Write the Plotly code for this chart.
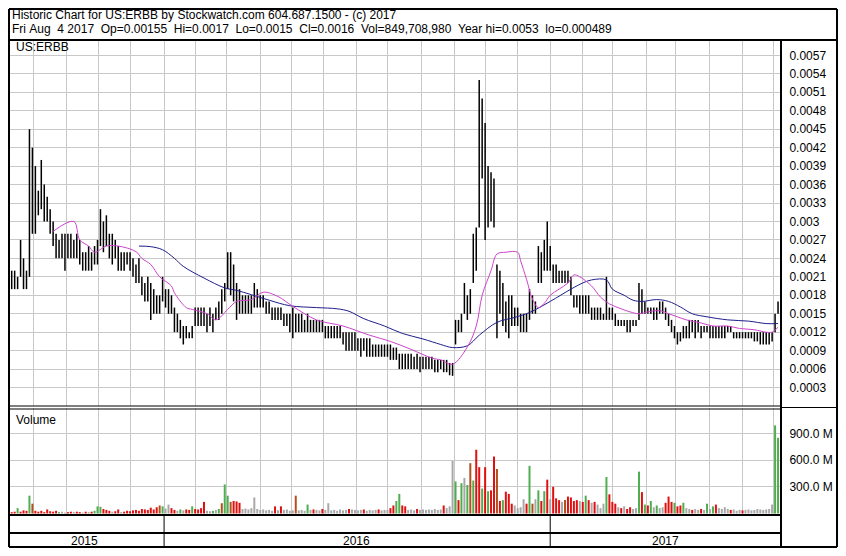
import pandas as pd
import plotly.graph_objects as go

# ---------------- data ----------------
# every 2nd trading day, Aug 2015 .. Aug 4 2017
all_days = pd.bdate_range("2015-08-05", "2017-08-04")
bar_dates = list(all_days[2::2])

PRICE_UNIT = 1e-4  # values below are in units of 0.0001
bar_high = [
    25, 22, 22, 21, 27, 24, 22, 45, 42, 39,
    35, 40, 36, 34, 32, 30, 28, 27, 28, 28,
    28, 28, 27, 28, 27, 25, 25, 26, 25, 26,
    27, 32, 30, 31, 28, 28, 27, 26, 25, 25,
    25, 25, 24, 23, 24, 21, 20, 21, 20, 19,
    18, 18, 21, 19, 19, 18, 16, 15, 14, 13,
    13, 12, 13, 16, 16, 16, 16, 15, 16, 15,
    16, 17, 19, 20, 25, 25, 23, 20, 19, 18,
    18, 18, 18, 20, 19, 18, 18, 17, 17, 16,
    16, 16, 16, 15, 15, 15, 16, 15, 15, 15,
    14, 15, 14, 14, 14, 14, 14, 13, 13, 13,
    13, 13, 13, 12, 12, 12, 12, 12, 11, 11,
    11, 11, 11, 10, 10, 10, 10, 10, 10, 10,
    9.5, 9.5, 8.5, 8.5, 8.5, 8.5, 8.5, 8, 8.5, 8,
    8, 8, 8, 8, 7.5, 7.5, 7.5, 7.5, 7.5, 7,
    7, 14, 14, 15, 20, 18, 19, 28, 29, 53,
    50, 46, 39, 38, 37, 23, 22, 20, 17, 18,
    18, 16, 16, 15, 15, 15, 19, 18, 17, 26,
    25, 27, 30, 26, 23, 23, 22, 22, 22, 22,
    21, 18, 18, 18, 18, 18, 18, 16, 16, 16,
    16, 15, 21, 16, 16, 15, 14, 14, 14, 14,
    14, 14, 14, 20, 19, 17, 16, 16, 16, 16,
    17, 17, 16, 15, 14, 13, 12, 12, 13, 13,
    14, 14, 14, 14, 13, 13, 13, 13, 13, 13,
    13, 13, 13, 13, 13, 12, 12, 12, 12, 12,
    12, 12, 12, 12, 12, 12, 12, 12, 12, 15,
    17,
]
bar_low = [
    20, 19, 19, 19, 21, 19, 19, 21, 28, 28,
    31, 32, 30, 30, 28, 26, 24, 24, 24, 22,
    24, 24, 24, 24, 23, 22, 22, 22, 22, 23,
    23, 26, 25, 26, 24, 23, 24, 22, 22, 22,
    23, 22, 21, 20, 20, 18, 17, 17, 14, 15,
    15, 15, 17, 16, 15, 15, 12, 12, 11, 10,
    11, 11, 11, 13, 13, 13, 13, 12, 13, 12,
    14, 14, 15, 17, 19, 18, 17, 14, 15, 15,
    15, 15, 15, 16, 16, 16, 16, 15, 15, 14,
    14, 14, 14, 13, 13, 12, 11, 12, 12, 12,
    12, 12, 12, 12, 12, 12, 12, 11, 11, 11,
    11, 11, 11, 10, 9, 9, 9, 9, 9, 8,
    9, 8, 8, 8, 8, 8, 8, 8, 8, 7.5,
    7.5, 7.5, 6, 6, 6, 6, 6, 6, 6, 5.5,
    6, 6, 6, 6, 5.5, 5.5, 6, 5.5, 5.5, 5,
    4.9, 10, 12, 12, 15, 14, 15, 20, 22, 29,
    37, 27, 29, 30, 29, 11, 15, 13, 12, 11,
    13, 13, 13, 12, 12, 12, 14, 15, 15, 20,
    20, 22, 22, 22, 20, 20, 20, 20, 20, 20,
    18, 16, 16, 15, 15, 15, 15, 14, 14, 14,
    14, 14, 14, 14, 14, 13, 13, 13, 13, 12,
    12, 13, 13, 14, 15, 15, 15, 15, 14, 14,
    15, 15, 14, 13, 12, 11, 10, 10.5, 11, 11,
    11, 12, 11, 12, 11, 12, 12, 11, 11, 11,
    11, 11, 11, 12, 12, 11, 11, 11, 11, 11,
    11, 11, 10.5, 10.5, 10, 10, 10, 10, 10.5, 12,
    15,
]

# volume in millions, and bar colour class (r=down, g=up, y=unchanged, b=mixed)
volume_m = [
    40, 15, 20, 60, 20, 35, 30, 200, 110, 30,
    20, 30, 15, 45, 25, 20, 30, 15, 20, 10,
    15, 20, 15, 20, 15, 10, 20, 15, 20, 30,
    80, 75, 50, 40, 30, 20, 25, 45, 15, 20,
    30, 25, 35, 40, 30, 50, 45, 40, 65, 45,
    70, 90, 80, 55, 100, 60, 40, 30, 45, 35,
    45, 40, 80, 50, 45, 60, 130, 30, 25, 30,
    40, 50, 115, 326, 200, 130, 140, 135, 120, 50,
    55, 45, 60, 180, 50, 40, 45, 35, 40, 30,
    80, 35, 80, 40, 45, 30, 35, 200, 35, 40,
    30, 100, 40, 45, 40, 35, 50, 40, 115, 35,
    40, 30, 45, 35, 40, 50, 45, 40, 35, 40,
    45, 30, 40, 35, 40, 45, 35, 40, 40, 60,
    90, 140, 220, 90, 80, 40, 45, 35, 50, 40,
    45, 40, 45, 40, 50, 40, 45, 90, 60, 80,
    590, 360, 150, 340, 400, 320, 565, 370, 716, 520,
    280, 520, 250, 260, 640, 500, 140, 150, 245, 220,
    110, 90, 60, 70, 160, 110, 535, 110, 160, 260,
    140, 250, 380, 160, 300, 170, 150, 130, 150, 190,
    180, 140, 150, 140, 130, 200, 150, 120, 130, 100,
    60, 110, 410, 215, 130, 110, 70, 60, 80, 50,
    70, 50, 60, 470, 240, 100, 90, 140, 70, 90,
    60, 70, 120, 190, 130, 120, 80, 90, 120, 60,
    50, 40, 50, 40, 50, 40, 110, 50, 80, 100,
    60, 50, 70, 50, 40, 45, 30, 40, 35, 40,
    45, 35, 40, 50, 45, 40, 45, 50, 100, 990,
    850,
]
volume_dir = (
    "rrrgrrrgbr" "rrrrrrrgyy" "rryrryryrg" "ggrrryrryr"
    "rrrrrrrrrr" "rbgyyrrygy" "rrgrrrryyg" "ygbggbrrry"
    "yyyyyyyyyy" "ryryyyybyy" "ygyryyryyy" "yyyyyryyyy"
    "ryyyyryyyr" "rggrryyyry" "yyyyyyyryy" "ygrgygbgrr"
    "grgrrbrgrr" "ryyyyrgbyg" "rgryrrrybr" "rrryrgryry"
    "yygrrryryr" "ryygrgrgyg" "yyrrrgrrgy" "yryyrygygr"
    "yyyyryyyry" "yyyyyyyyyg" "g"
)

ma_short_bar = [15, 22, 24, 27, 29, 33, 37, 43, 45, 48, 51, 55, 56, 60, 62, 67, 70, 74, 77,
                82, 86, 91, 96, 104, 113, 122, 129, 136, 143, 146, 150, 155, 158, 160,
                163, 165, 168, 172, 173, 175, 177, 179, 181, 183, 186, 189, 191, 193,
                197, 200, 203, 207, 210, 213, 216, 220, 223, 226, 229, 234, 238, 243,
                247, 252, 256, 258, 260]
ma_short_val = [28.4, 30, 27, 26, 25, 26, 26, 25.1, 24, 23, 21, 19.5, 18.4, 16, 15.7, 15,
                14, 15.7, 17, 17.3, 18.5, 17.8, 16.2, 14, 13, 11.5, 10.5, 9.2, 7.8, 7.5,
                6.8, 9.6, 13, 18, 22, 24.7, 25, 25, 23.6, 20.6, 17.4, 16, 16.7, 18, 19,
                20, 21.3, 21, 19.5, 17.7, 16.6, 15.8, 15.3, 15, 15.3, 15.5, 15, 14.5,
                14, 13.5, 13, 13, 12.6, 12.4, 12, 12, 12.8]
ma_long_bar = [44, 48, 52, 56, 59, 66, 73, 77, 82, 88, 95, 104, 111, 115, 120, 127, 133,
               140, 146, 150, 155, 159, 165, 171, 176, 183, 190, 194, 197, 202, 204, 208,
               211, 214, 219, 223, 227, 231, 236, 243, 250, 256, 260]
ma_long_val = [26, 25.9, 25.4, 24, 22.7, 20.8, 19.2, 18.8, 18.1, 17.2, 16.3, 16, 15.8,
               15.4, 14.2, 13, 11.8, 10.9, 10.0, 9.5, 9.8, 11.5, 13.6, 14.4, 15.2, 17,
               19, 20, 20.5, 20.5, 19, 18, 17.2, 17, 17.3, 17, 16.1, 15, 14.5, 14, 13.8,
               13.4, 13.4]

price_tickvals = [0.0003, 0.0006, 0.0009, 0.0012, 0.0015, 0.0018, 0.0021, 0.0024, 0.0027,
                  0.0030, 0.0033, 0.0036, 0.0039, 0.0042, 0.0045, 0.0048, 0.0051, 0.0054, 0.0057]
price_ticktext = ["0.0003", "0.0006", "0.0009", "0.0012", "0.0015", "0.0018", "0.0021",
                  "0.0024", "0.0027", "0.003", "0.0033", "0.0036", "0.0039", "0.0042",
                  "0.0045", "0.0048", "0.0051", "0.0054", "0.0057"]
vol_tickvals = [300e6, 600e6, 900e6]
vol_ticktext = ["300.0 M", "600.0 M", "900.0 M"]
year_labels = ["2015", "2016", "2017"]
year_label_dates = ["2015-10-19", "2016-07-01", "2017-04-20"]
year_bounds = ["2016-01-01", "2017-01-02"]

title_line1 = "Historic Chart for US:ERBB by Stockwatch.com 604.687.1500 - (c) 2017"
title_line2 = ("Fri Aug  4 2017  Op=0.00155  Hi=0.0017  Lo=0.0015  Cl=0.0016  "
               "Vol=849,708,980  Year hi=0.0053  lo=0.000489")

# ---------------- figure ----------------
# The page has an 8px body margin, so the figure is sized to fill the rest of the
# 846x556 window and page coordinates are shifted by 8px.
OFF = 8
W, H = 846 - OFF, 556 - OFF
FONT = "Arial, 'Liberation Sans', sans-serif"


def px(x):
    return (x - OFF) / W


def py(y):
    return 1 - (y - OFF) / H


fig = go.Figure()

# high/low bars
bx, by = [], []
for d, h, l in zip(bar_dates, bar_high, bar_low):
    bx += [d, d, None]
    by += [l * PRICE_UNIT, h * PRICE_UNIT, None]
fig.add_trace(go.Scatter(x=bx, y=by, mode="lines", line=dict(color="#000000", width=1.5),
                         hoverinfo="skip", xaxis="x", yaxis="y"))

# moving averages
fig.add_trace(go.Scatter(x=[bar_dates[i] for i in ma_long_bar],
                         y=[v * PRICE_UNIT for v in ma_long_val], mode="lines",
                         line=dict(color="#1e1e8c", width=1, shape="spline"),
                         xaxis="x", yaxis="y"))
fig.add_trace(go.Scatter(x=[bar_dates[i] for i in ma_short_bar],
                         y=[v * PRICE_UNIT for v in ma_short_val], mode="lines",
                         line=dict(color="#cc44cc", width=1, shape="spline"),
                         xaxis="x", yaxis="y"))

# volume bars, one trace per colour
vol_colors = {"r": "#e01010", "g": "#4fae4f", "y": "#a8a8a8", "b": "#b0501c"}
for code, col in vol_colors.items():
    vx, vy = [], []
    for d, v, c in zip(bar_dates, volume_m, volume_dir):
        if c == code:
            vx += [d, d, None]
            vy += [0, v * 1e6, None]
    fig.add_trace(go.Scatter(x=vx, y=vy, mode="lines", line=dict(color=col, width=2),
                             hoverinfo="skip", xaxis="x2", yaxis="y2"))

month_ticks = list(pd.date_range("2015-09-01", "2017-08-01", freq="BMS"))
grid = "#c8c8c8"
xcommon = dict(domain=[px(8), px(781)], range=["2015-08-06 12:00", "2017-08-08 00:00"],
               rangebreaks=[dict(bounds=["sat", "mon"])], tickvals=month_ticks,
               showticklabels=False, ticks="", showgrid=True, gridcolor=grid, gridwidth=1,
               zeroline=False, showline=False)

fig.update_layout(
    width=W, height=H, autosize=False,
    margin=dict(l=0, r=0, t=0, b=0, pad=0),
    paper_bgcolor="white", plot_bgcolor="white",
    showlegend=False,
    font=dict(family=FONT, size=12, color="#000000"),
    xaxis=dict(anchor="y", **xcommon),
    xaxis2=dict(anchor="y2", matches="x", **xcommon),
    yaxis=dict(domain=[py(406), py(40)], range=[0.0, 0.00595], side="right", anchor="x",
               tickvals=price_tickvals, ticktext=price_ticktext, showgrid=True,
               gridcolor=grid, zeroline=False, showline=False, ticks="outside",
               ticklen=5, tickcolor="rgba(0,0,0,0)", tickfont=dict(size=12, family=FONT)),
    yaxis2=dict(domain=[py(514), py(408)], range=[-6e6, 1185e6], side="right",
                anchor="x2", tickvals=vol_tickvals, ticktext=vol_ticktext, showgrid=True,
                gridcolor=grid, zeroline=False, showline=False, ticks="outside",
                ticklen=5, tickcolor="rgba(0,0,0,0)", tickfont=dict(size=12, family=FONT)),
)

shapes = []


def hline(y, x0, x1, w=2):
    shapes.append(dict(type="line", xref="paper", yref="paper", x0=px(x0), x1=px(x1),
                       y0=py(y), y1=py(y), line=dict(color="#000000", width=w)))


def vline(x, y0, y1, w=2):
    shapes.append(dict(type="line", xref="paper", yref="paper", x0=px(x), x1=px(x),
                       y0=py(y0), y1=py(y1), line=dict(color="#000000", width=w)))


hline(9, 9, 837)
hline(40, 9, 837)
hline(406, 9, 781, 1)
hline(409, 9, 781, 1)
hline(407.5, 781, 837, 1)
hline(515, 9, 781)
hline(533, 9, 781)
hline(547, 9, 837)
vline(9, 9, 547)
vline(837, 9, 547)
vline(781, 40, 547)
for d in year_bounds:
    shapes.append(dict(type="line", xref="x", yref="paper", x0=d, x1=d,
                       y0=py(547), y1=py(515), line=dict(color="#000000", width=1)))
fig.update_layout(shapes=shapes)

ann = []


def text(x, y, s, anchor="left", xref="paper"):
    ann.append(dict(x=x, y=y, xref=xref, yref="paper", text=s, showarrow=False,
                    xanchor=anchor, yanchor="middle", font=dict(size=12, family=FONT),
                    borderpad=0))


text(px(11), py(15), title_line1.replace(" ", "\u00a0"))
text(px(11), py(29), title_line2.replace(" ", "\u00a0"))
text(px(15), py(47), "US:ERBB")
text(px(15), py(420), "Volume")
for lab, d in zip(year_labels, year_label_dates):
    text(d, py(541), lab, anchor="center", xref="x")
fig.update_layout(annotations=ann)

fig.write_html("out.html")
